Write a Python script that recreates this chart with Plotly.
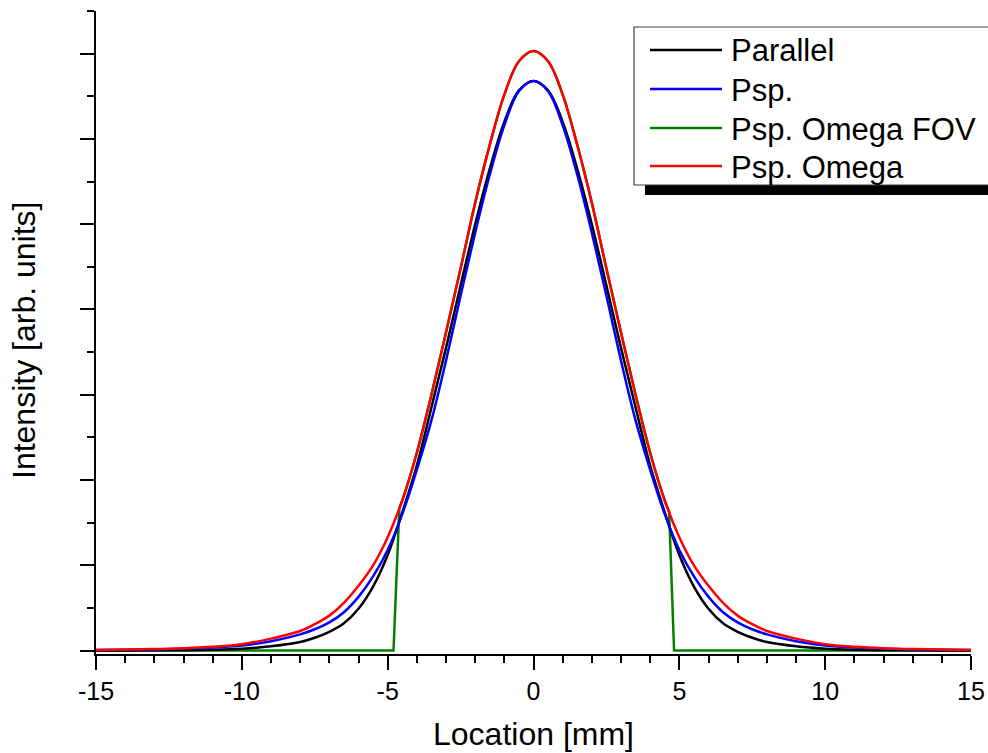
import plotly.graph_objects as go

# Lateral position across the detector [mm]
location_mm = [-15, -14, -13, -12, -11, -10, -9, -8, -7.5, -7, -6.5, -6, -5.5, -5, -4.5, -4,
               -3.5, -3, -2.5, -2, -1.5, -1, -0.5, 0, 0.5, 1, 1.5, 2, 2.5, 3, 3.5, 4, 4.5,
               5, 5.5, 6, 6.5, 7, 7.5, 8, 9, 10, 11, 12, 13, 14, 15]

# Line profiles [arb. units]
parallel = [0.001, 0.002, 0.003, 0.005, 0.010, 0.022, 0.05, 0.10, 0.15, 0.22, 0.32, 0.49,
            0.75, 1.12, 1.62, 2.17, 2.85, 3.55, 4.28, 5.00, 5.65, 6.20, 6.57, 6.68,
            6.57, 6.20, 5.65, 5.00, 4.28, 3.55, 2.85, 2.17, 1.62, 1.12, 0.75, 0.49,
            0.32, 0.22, 0.15, 0.10, 0.05, 0.022, 0.010, 0.005, 0.003, 0.002, 0.001]

psp = [0.006, 0.009, 0.014, 0.022, 0.035, 0.06, 0.11, 0.19, 0.25, 0.33, 0.45, 0.63,
       0.87, 1.18, 1.60, 2.12, 2.70, 3.40, 4.16, 4.90, 5.58, 6.16, 6.56, 6.68,
       6.56, 6.16, 5.58, 4.90, 4.16, 3.40, 2.70, 2.12, 1.60, 1.18, 0.87, 0.63,
       0.45, 0.33, 0.25, 0.19, 0.11, 0.06, 0.035, 0.022, 0.014, 0.009, 0.006]

psp_omega = [0.008, 0.012, 0.018, 0.028, 0.045, 0.075, 0.14, 0.23, 0.31, 0.41, 0.56, 0.76,
             1.00, 1.33, 1.76, 2.32, 3.00, 3.73, 4.48, 5.25, 5.93, 6.52, 6.91, 7.03,
             6.91, 6.52, 5.93, 5.25, 4.48, 3.73, 3.00, 2.32, 1.76, 1.33, 1.00, 0.76,
             0.56, 0.41, 0.31, 0.23, 0.14, 0.075, 0.045, 0.028, 0.018, 0.012, 0.008]

# Omega profile restricted to the field of view
fov_x = [-15, -4.8, -4.6, -4.5, -4, -3.5, -3, -2.5, -2, -1.5, -1, -0.5, 0,
         0.5, 1, 1.5, 2, 2.5, 3, 3.5, 4, 4.5, 4.65, 4.82, 15]
fov_y = [0, 0, 1.67, 1.76, 2.32, 3.00, 3.73, 4.48, 5.25, 5.93, 6.52, 6.91, 7.03,
         6.91, 6.52, 5.93, 5.25, 4.48, 3.73, 3.00, 2.32, 1.76, 1.63, 0, 0]

x_tick_vals = [-15, -10, -5, 0, 5, 10, 15]
x_tick_text = ["-15", "-10", "-5", "0", "5", "10", "15"]

legend_names = ["Parallel", "Psp.", "Psp. Omega FOV", "Psp. Omega"]

BLACK, BLUE, GREEN, RED = "#000000", "#0000ff", "#008000", "#ff0000"
legend_colors = [BLACK, BLUE, GREEN, RED]
LW = 2.5

W, H = 988, 753
ML, MR, MT, MB = 96, 17, 11, 99
PW, PH = W - ML - MR, H - MT - MB


def px_x(px):
    """Page pixel column -> paper fraction."""
    return (px - ML) / PW


def px_y(py):
    """Page pixel row -> paper fraction."""
    return (H - MB - py) / PH


fig = go.Figure()

# FOV curve: flat outside the field of view, steep edges, smooth inside
fig.add_trace(go.Scatter(x=fov_x[:3], y=fov_y[:3], mode="lines", name=legend_names[2],
                         line=dict(color=GREEN, width=LW, shape="linear")))
fig.add_trace(go.Scatter(x=fov_x[2:-2], y=fov_y[2:-2], mode="lines",
                         line=dict(color=GREEN, width=LW, shape="spline")))
fig.add_trace(go.Scatter(x=fov_x[-3:], y=fov_y[-3:], mode="lines",
                         line=dict(color=GREEN, width=LW, shape="linear")))

fig.add_trace(go.Scatter(x=location_mm, y=parallel, mode="lines", name=legend_names[0],
                         line=dict(color=BLACK, width=LW, shape="spline")))
fig.add_trace(go.Scatter(x=location_mm, y=psp, mode="lines", name=legend_names[1],
                         line=dict(color=BLUE, width=LW, shape="spline")))
fig.add_trace(go.Scatter(x=location_mm, y=psp_omega, mode="lines", name=legend_names[3],
                         line=dict(color=RED, width=LW, shape="spline")))

axis_common = dict(showline=True, linewidth=2, linecolor="black", showgrid=False,
                   zeroline=False, ticks="outside", ticklen=14, tickwidth=2,
                   tickcolor="black")

# Boxed key with a drop shadow in the upper right corner
box_left, box_top, box_bottom = 634, 27, 185
row_y = [50, 89, 128, 166]
shapes = [
    dict(type="rect", xref="paper", yref="paper",
         x0=px_x(645), x1=px_x(1010), y0=px_y(195), y1=px_y(box_bottom),
         fillcolor="black", line=dict(width=0), layer="above"),
    dict(type="rect", xref="paper", yref="paper",
         x0=px_x(box_left), x1=px_x(1010), y0=px_y(box_bottom), y1=px_y(box_top),
         fillcolor="white", line=dict(color="#404040", width=1.2), layer="above"),
]
annotations = []
for name, color, ry in zip(legend_names, legend_colors, row_y):
    shapes.append(dict(type="line", xref="paper", yref="paper",
                       x0=px_x(650), x1=px_x(722), y0=px_y(ry), y1=px_y(ry),
                       line=dict(color=color, width=LW), layer="above"))
    annotations.append(dict(text=name, xref="paper", yref="paper",
                            x=px_x(729), y=px_y(ry + 1), xanchor="left", yanchor="middle",
                            showarrow=False, font=dict(size=31, color="black")))

annotations.append(dict(text="Intensity [arb. units]", xref="paper", yref="paper",
                        x=px_x(24), y=px_y(341), xanchor="center", yanchor="middle",
                        textangle=-90, showarrow=False, font=dict(size=32, color="black")))

fig.update_layout(
    width=W, height=H,
    margin=dict(l=ML, r=MR, t=MT, b=MB, autoexpand=False),
    paper_bgcolor="white", plot_bgcolor="white",
    font=dict(family="Liberation Sans, Arial, sans-serif", color="black"),
    showlegend=False,
    xaxis=dict(range=[-15, 15], tickmode="array", tickvals=x_tick_vals,
               ticktext=x_tick_text, tickfont=dict(size=25),
               minor=dict(tickmode="linear", tick0=0, dtick=1, ticks="outside",
                          ticklen=7, tickwidth=2, tickcolor="black"),
               title=dict(text="Location [mm]", font=dict(size=32), standoff=19),
               **axis_common),
    yaxis=dict(range=[-0.04, 7.5], tickmode="linear", tick0=0, dtick=1,
               showticklabels=False,
               minor=dict(tickmode="linear", tick0=0, dtick=0.5, ticks="outside",
                          ticklen=7, tickwidth=2, tickcolor="black"),
               **axis_common),
    shapes=shapes,
    annotations=annotations,
)

fig.write_html("out.html")
